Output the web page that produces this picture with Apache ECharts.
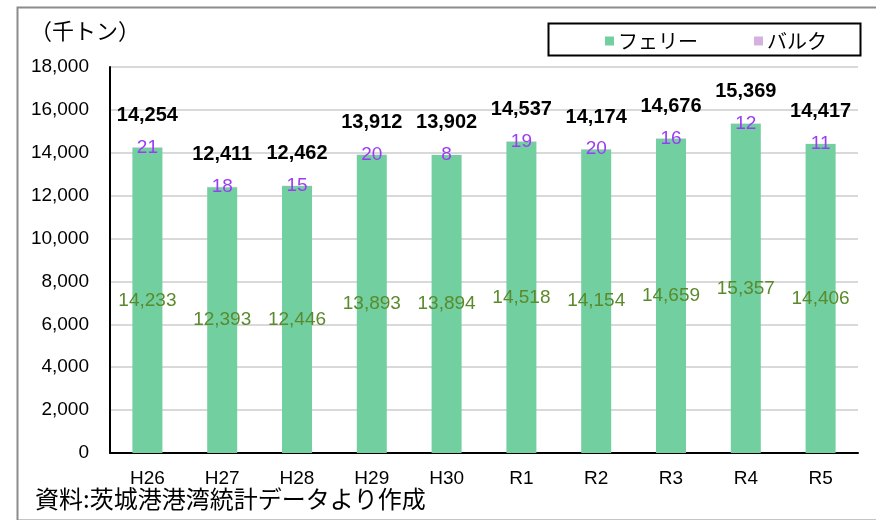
<!DOCTYPE html>
<html>
<head>
<meta charset="utf-8">
<script src="https://cdn.jsdelivr.net/npm/echarts@6/dist/echarts.min.js"></script>
<style>
  html, body { margin: 0; padding: 0; background: #fff; }
  #main { width: 876px; height: 520px; }
</style>
</head>
<body>
<div id="main"></div>
<script>
var categories = ['H26', 'H27', 'H28', 'H29', 'H30', 'R1', 'R2', 'R3', 'R4', 'R5'];
var ferry = [14233, 12393, 12446, 13893, 13894, 14518, 14154, 14659, 15357, 14406];
var bulk = [21, 18, 15, 20, 8, 19, 20, 16, 12, 11];
var totals = [14254, 12411, 12462, 13912, 13902, 14537, 14174, 14676, 15369, 14417];

var JP = '"Noto Sans CJK JP", sans-serif';
var NUM = '"Liberation Sans", Arial, sans-serif';
var fmt = function (v) { return Number(v).toLocaleString('en-US'); };

var myChart = echarts.init(document.getElementById('main'));
var option = {
  backgroundColor: '#fff',
  animation: false,
  textStyle: { fontFamily: NUM },
  graphic: [
    // 外枠
    { type: 'rect', left: 15, top: 5, shape: { width: 900, height: 513 },
      style: { fill: 'none', stroke: '#8c8c8c', lineWidth: 2 }, silent: true },
    // 凡例の枠
    { type: 'rect', left: 546, top: 21, shape: { width: 312, height: 32 },
      style: { fill: 'none', stroke: '#000', lineWidth: 2 }, silent: true },
    { type: 'text', left: 30, top: 20,
      style: { text: '（千トン）', font: '22px ' + JP, fill: '#000' } },
    { type: 'text', left: 35, top: 487,
      style: { text: '資料:茨城港港湾統計データより作成', font: '24px ' + JP, fill: '#000' } }
  ],
  legend: {
    left: 600, top: 26,
    itemWidth: 9, itemHeight: 9, itemGap: 56,
    icon: 'rect',
    data: ['フェリー', 'バルク'],
    textStyle: { fontSize: 20, color: '#000', fontFamily: JP, padding: [0, 0, 0, -1] }
  },
  grid: { left: 110, right: 18, top: 67, bottom: 67 },
  xAxis: {
    type: 'category',
    data: categories,
    axisLine: { lineStyle: { color: '#000', width: 2 } },
    axisTick: { show: false },
    axisLabel: { fontSize: 19, color: '#000', margin: 16, fontFamily: NUM }
  },
  yAxis: {
    type: 'value',
    min: 0, max: 18000, interval: 2000,
    axisLine: { show: true, lineStyle: { color: '#000', width: 2 } },
    axisTick: { show: false },
    splitLine: { lineStyle: { color: '#d9d9d9', width: 2 } },
    axisLabel: { fontSize: 19, color: '#000', margin: 21, fontFamily: NUM, formatter: fmt }
  },
  series: [
    {
      name: 'フェリー', type: 'bar', stack: 'total', barWidth: 30,
      itemStyle: { color: '#71cfa0' },
      label: { show: true, position: 'inside', fontSize: 19, color: '#5a8a2c',
               fontFamily: NUM, formatter: function (p) { return fmt(p.value); } },
      data: ferry
    },
    {
      name: 'バルク', type: 'bar', stack: 'total', barWidth: 30,
      itemStyle: { color: '#d4b1e0' },
      label: { show: true, position: 'inside', fontSize: 19, color: '#9b3cf5',
               fontFamily: NUM },
      data: bulk
    },
    {
      name: '合計', type: 'bar', barWidth: 30, barGap: '-100%', z: 1,
      itemStyle: { color: 'rgba(0,0,0,0)' },
      label: { show: true, position: 'top', distance: 22, fontSize: 20, fontWeight: 'bold',
               color: '#000', fontFamily: NUM, formatter: function (p) { return fmt(p.value); } },
      silent: true,
      data: totals
    }
  ]
};
option && myChart.setOption(option);
</script>
</body>
</html>
